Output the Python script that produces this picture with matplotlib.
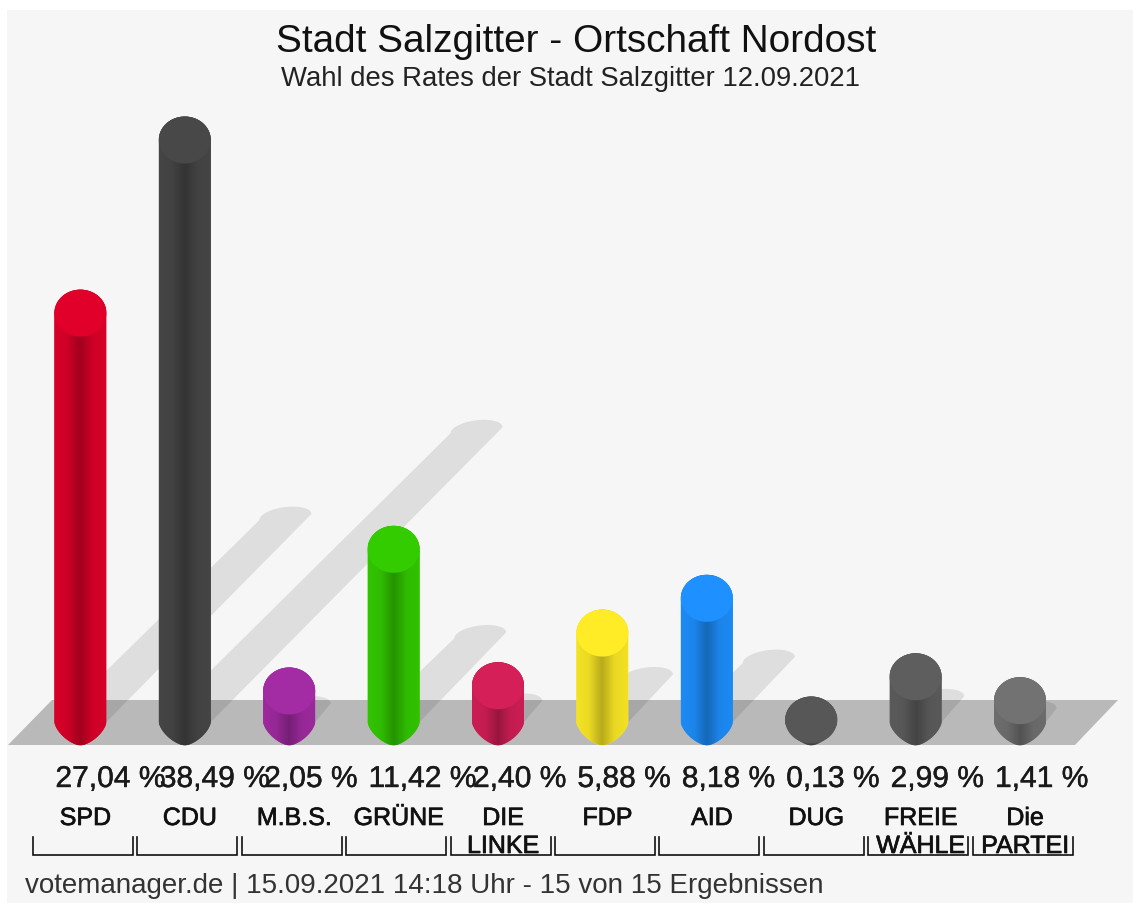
"""
Stadt Salzgitter - Ortschaft Nordost: Säulen mit Schatten im votemanager-Stil
"""

import numpy as np
import matplotlib
matplotlib.use("Agg")
import matplotlib.pyplot as plt
import matplotlib.patheffects as pe
from matplotlib.colors import to_rgb, LinearSegmentedColormap
from matplotlib.patches import Polygon, Rectangle

# ── Daten ──────────────────────────────────────────────
PARTIES = ["SPD", "CDU", "M.B.S.", "GRÜNE", "DIE\nLINKE", "FDP", "AID", "DUG",
           "FREIE\nWÄHLE", "Die\nPARTEI"]
VALUES = [27.04, 38.49, 2.05, 11.42, 2.40, 5.88, 8.18, 0.13, 2.99, 1.41]
VALUE_LABELS = ["27,04 %", "38,49 %", "2,05 %", "11,42 %", "2,40 %", "5,88 %",
                "8,18 %", "0,13 %", "2,99 %", "1,41 %"]
COLORS = ["#e0002a", "#484848", "#a32ba3", "#33cc00", "#d41f58", "#ffec26",
          "#1e90ff", "#575757", "#5e5e5e", "#727272"]

TITLE = "Stadt Salzgitter - Ortschaft Nordost"
SUBTITLE = "Wahl des Rates der Stadt Salzgitter 12.09.2021"
FOOTER = "votemanager.de | 15.09.2021 14:18 Uhr - 15 von 15 Ergebnissen"

# ── Layout (Pixel) ─────────────────────────────────────
W, H = 1133, 907
X0, DX = 80.4, 104.4      # Pixel der ersten Säule, Abstand
Y0, DY = 722.0, 15.12     # Pixel von 0 %, Pixel pro Prozent
RX, RY = 26.0, 23.5
SHADOW = 7.58             # Schattenversatz in Pixel pro Prozent
BG = "#f6f6f6"
FONT = "Liberation Sans"

plt.rcParams["font.family"] = [FONT, "DejaVu Sans"]


def gradient_cmap(color):
    c = np.array(to_rgb(color))
    return LinearSegmentedColormap.from_list(
        "side", [c * 0.96, c * 0.92, c * 0.72, c * 0.92, c * 0.95],
    )


def body_outline(i, v):
    """Umriss der Säule in Datenkoordinaten: oben rund, unten leicht spitz"""
    rx, ry = RX / DX, RY / DY
    t = np.linspace(0, np.pi, 40)
    top_x = i + rx * np.cos(t)
    top_y = v + ry * np.sin(t)
    t = np.linspace(np.pi, 2 * np.pi, 40)
    p = 1.55
    bot_x = i + rx * np.sign(np.cos(t)) * np.abs(np.cos(t)) ** (2 / p)
    bot_y = -ry * np.abs(np.sin(t)) ** (2 / p)
    return np.column_stack([np.r_[top_x, bot_x], np.r_[top_y, bot_y]])


def shadow_outline(x, v):
    """Schatten in Pixeln: schräges Band mit gekipptem, flachem Ende"""
    ex, ey = x + SHADOW * v, Y0 - SHADOW * v
    t = np.linspace(np.pi, 0, 40)
    cap = np.column_stack([ex + RX * np.cos(t), ey - 10 * np.sin(t) - 3 * np.cos(t)])
    return np.vstack([cap, [[x + RX, Y0], [x - RX, Y0]]])


def main():
    fig = plt.figure(figsize=(W / 100, H / 100), dpi=100, facecolor="white")

    # Hintergrund-Achse in Pixeln: Boden, Schatten, Beschriftung
    ax_px = fig.add_axes([0, 0, 1, 1])
    ax_px.set_xlim(0, W)
    ax_px.set_ylim(H, 0)
    ax_px.axis("off")
    ax_px.add_patch(Rectangle((7, 10), W - 7, H - 14, fc=BG, ec="none", zorder=0))

    ax_px.add_patch(Polygon([(8, 745), (1075, 745), (1118, 700), (52, 700)],
                            fc="#b9b9b9", ec="none", zorder=1))

    for i, v in enumerate(VALUES):
        ax_px.add_patch(Polygon(shadow_outline(X0 + DX * i, v), fc="black", alpha=0.095,
                                ec="none", zorder=2))

    # Säulen-Achse: x = Partei, y = Prozent
    ax = fig.add_axes([0, 0, 1, 1], facecolor="none")
    rx, ry = RX / DX, RY / DY
    for i, (v, color) in enumerate(zip(VALUES, COLORS)):
        outline = Polygon(body_outline(i, v), fc=color, ec="none", transform=ax.transData)
        ax.add_patch(outline)
        im = ax.imshow(np.linspace(0, 1, 64).reshape(1, -1), cmap=gradient_cmap(color),
                       extent=(i - rx, i + rx, -ry, v + ry), aspect="auto", zorder=3)
        im.set_clip_path(outline)
        t = np.linspace(0, 2 * np.pi, 80)
        ax.add_patch(Polygon(np.column_stack([i + rx * np.cos(t), v + ry * np.sin(t)]),
                             fc=color, ec="none", zorder=4))
    ax.set_xlim(-X0 / DX, (W - X0) / DX)
    ax.set_ylim((Y0 - H) / DY, Y0 / DY)
    ax.axis("off")

    # ── Texte ──
    ax_px.text(576, 42, TITLE, ha="center", va="center", fontsize=27.9, color="#111111")
    ax_px.text(570.5, 79, SUBTITLE, ha="center", va="center", fontsize=19.8, color="#222222")
    ax_px.text(25, 886, FOOTER, ha="left", va="center", fontsize=20, color="#333333")

    stroke = [pe.withStroke(linewidth=0.5, foreground="#111111")]
    thin = [pe.withStroke(linewidth=0.3, foreground="#1a1a1a")]
    for i, (name, label) in enumerate(zip(PARTIES, VALUE_LABELS)):
        x = X0 + DX * i
        ax_px.text(x - 25, 779, label, ha="left", va="center", fontsize=21.6, color="#1a1a1a",
                   path_effects=thin)
        for j, line in enumerate(name.split("\n")):
            ax_px.text(x + 5, 818 + 28 * j, line, ha="center", va="center", fontsize=18,
                       color="#111111", path_effects=stroke)
        left = 33 + DX * i
        ax_px.plot([left, left, left + 100, left + 100], [837, 855, 855, 837],
                   color="#111111", lw=1.2, solid_joinstyle="miter", zorder=2)

    fig.savefig("out.png", dpi=100, facecolor="white")
    plt.close(fig)


if __name__ == "__main__":
    main()
